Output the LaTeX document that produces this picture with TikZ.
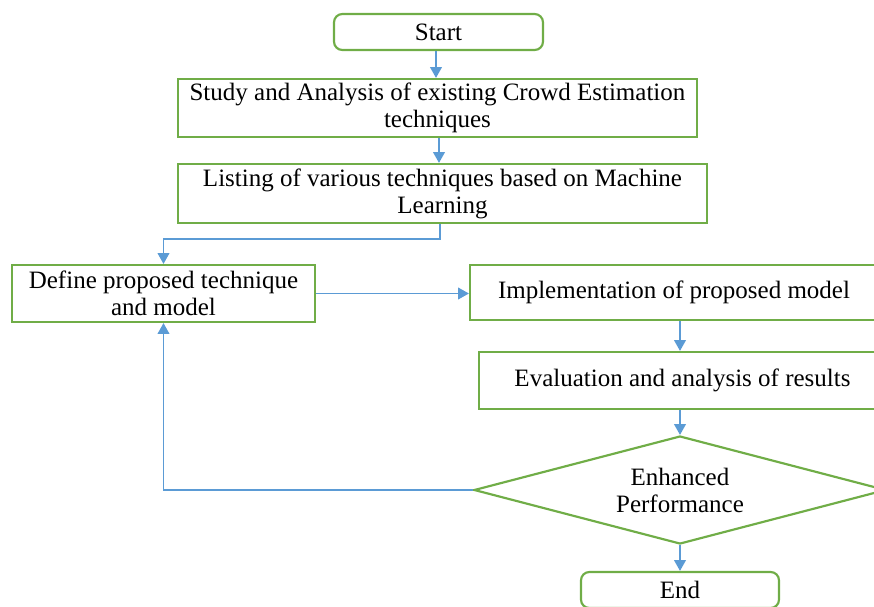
\documentclass[tikz,border=0pt]{standalone}
\usepackage{fontspec}
\setmainfont{Liberation Serif}
\usepackage{tikz}
\usetikzlibrary{shapes.geometric,arrows.meta}
\definecolor{boxgreen}{RGB}{112,173,71}
\definecolor{arrowblue}{RGB}{91,155,213}
\newcommand{\px}{0.6pt}
\tikzset{
  stepbox/.style={draw=boxgreen, line width=1.3pt, align=center, inner sep=0pt,
    font=\fontsize{15}{16.2}\selectfont},
  termbox/.style={stepbox, rounded corners=5pt},
  flow/.style={draw=arrowblue, line width=1pt, -{Triangle[width=7pt,length=6.5pt]}},
}
\begin{document}
\begin{tikzpicture}[x=0.6pt,y=-0.6pt]
\clip (0,0) rectangle (874,606);
%%%%%%%%% top part
\node[termbox, minimum width=209*\px, minimum height=36*\px] (start) at (438.5,32) {Start};
\node[stepbox, minimum width=519*\px, minimum height=58*\px] (study) at (437.5,108)
  {Study and Analysis of existing Crowd Estimation\\techniques};
\node[stepbox, minimum width=529*\px, minimum height=59*\px] (list) at (442.5,193.5)
  {Listing of various techniques based on Machine\\Learning};

\draw[flow] (start.south -| 436,0) -- (study.north -| 436,0);
\draw[flow] (study.south -| 439,0) -- (list.north -| 439,0);

%%%%%%%%% middle part
\node[stepbox, minimum width=303*\px, minimum height=57*\px] (define) at (163.5,293.5)
  {Define proposed technique\\and model};
\node[stepbox, minimum width=408*\px, minimum height=55*\px] (impl) at (674,292.5)
  {Implementation of proposed model};
\node[stepbox, minimum width=407*\px, minimum height=57*\px] (eval) at (682.5,380.5)
  {Evaluation and analysis of results};

\draw[flow] (list.south -| 440,0) -- ++(0,15) -| (define.north);
\draw[flow] (define.east) -- (define.east -| impl.west);

%%%%%%%%% decision
\node[stepbox, shape=diamond, aspect=3.8, minimum width=412*\px, minimum height=108*\px]
  (perf) at (680,490) {Enhanced\\Performance};
\node[termbox, minimum width=198*\px, minimum height=36*\px] (end) at (680,590) {End};

\draw[flow] (impl.south -| perf.north) -- (eval.north -| perf.north);
\draw[flow] (eval.south -| perf.north) -- (perf.north);
\draw[flow] (perf.south) -- (end.north);
\draw[flow] (perf.west) -| (define.south);

\end{tikzpicture}
\end{document}
